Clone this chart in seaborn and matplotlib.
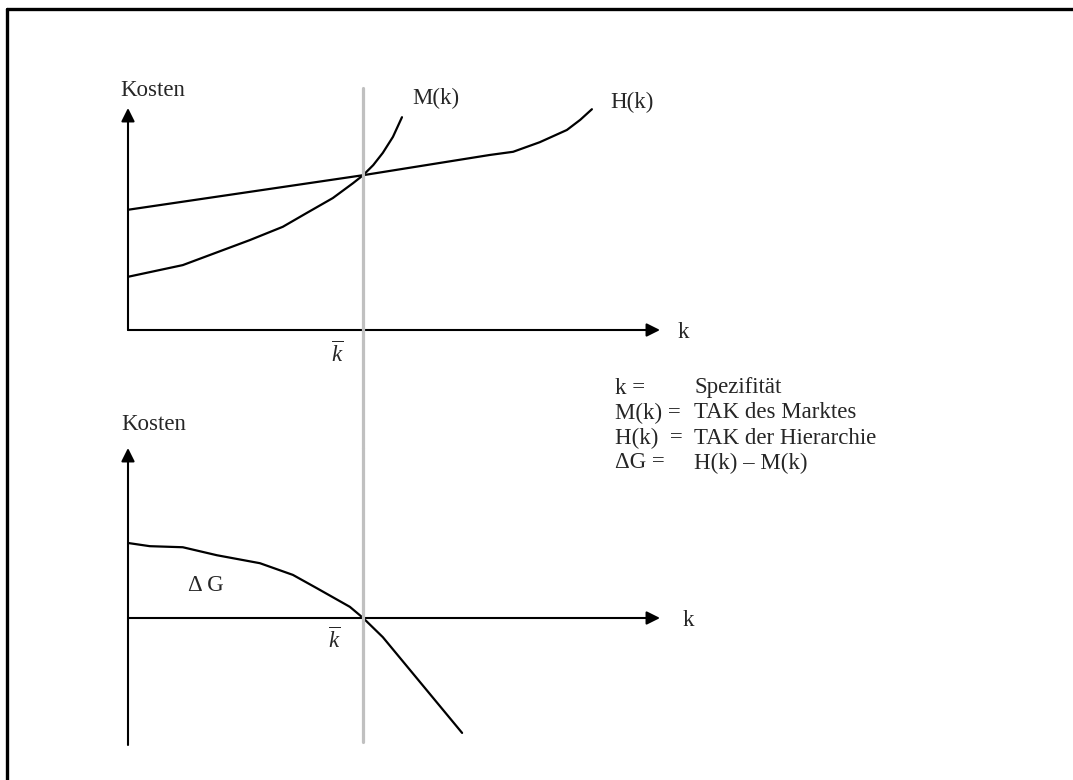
import matplotlib
matplotlib.use("Agg")
import matplotlib.pyplot as plt
import seaborn as sns

# curve points (k and cost in the same arbitrary units)
k_bar = 44.2

h_k = [0, 44.2, 58.6, 68.0, 72.4, 77.4, 82.5, 85.0, 87.2]
h_cost = [22.6, 29.1, 31.4, 32.9, 33.5, 35.3, 37.6, 39.5, 41.5]

m_k = [0, 10.3, 22.9, 29.1, 33.6, 38.5, 42.3, 44.2, 46.1, 47.9, 49.8, 51.5]
m_cost = [10.0, 12.2, 16.9, 19.4, 22.0, 24.8, 27.6, 29.1, 31.0, 33.3, 36.3, 40.0]

dg_k = [0, 4.1, 10.3, 16.7, 24.8, 31.0, 35.5, 41.7, 44.2, 47.9, 62.8]
dg_cost = [14.1, 13.5, 13.3, 11.8, 10.3, 8.1, 5.6, 2.1, 0, -3.6, -21.6]

legend_lhs = ["k =", "M(k) =", "H(k)  =", "\u0394G ="]
legend_rhs = ["Spezifit\u00e4t", "TAK des Marktes", "TAK der Hierarchie", "H(k) \u2013 M(k)"]

sns.set_theme(style="white")
plt.rcParams["font.family"] = ["Liberation Serif", "DejaVu Serif"]
plt.rcParams["mathtext.fontset"] = "custom"
plt.rcParams["mathtext.rm"] = "Liberation Serif"
plt.rcParams["mathtext.it"] = "Liberation Serif:italic"

W, H = 1073, 780
FS = 16.5
fig = plt.figure(figsize=(W / 100, H / 100), dpi=100)
fig.patch.set_facecolor("white")


def box(left, top, right, bottom):
    return [left / W, (H - bottom) / H, (right - left) / W, (bottom - top) / H]


def arrow(ax, start, end):
    ax.annotate("", xy=end, xytext=start,
                arrowprops=dict(arrowstyle="-|>", color="black", lw=1.5,
                                mutation_scale=20, shrinkA=0, shrinkB=0))


def clean(ax):
    ax.set_axis_off()
    ax.patch.set_alpha(0)


# top panel: transaction costs of market and hierarchy
ax1 = fig.add_axes(box(128, 108, 660, 330))
ax1.set_xlim(0, 100)
ax1.set_ylim(0, 222 / 5.32)
clean(ax1)
sns.lineplot(x=h_k, y=h_cost, sort=False, estimator=None, color="black", lw=1.6, ax=ax1)
sns.lineplot(x=m_k, y=m_cost, sort=False, estimator=None, color="black", lw=1.6, ax=ax1)
arrow(ax1, (0, 0), (0, 222 / 5.32))
arrow(ax1, (0, 0), (100, 0))
ax1.plot([k_bar, k_bar], [45.5, -22.2], color="#c0c0c0", lw=2.3, clip_on=False, zorder=5)
ax1.text(-1.5, 45.1, "Kosten", fontsize=FS, ha="left", va="center")
ax1.text(104.3, -0.5, "k", fontsize=FS, ha="center", va="center")
ax1.text(53.4, 43.6, "M(k)", fontsize=FS, ha="left", va="center")
ax1.text(90.6, 42.7, "H(k)", fontsize=FS, ha="left", va="center")
ax1.text(39.3, -4.6, r"$\overline{k}$", fontsize=FS, ha="center", va="center")

# bottom panel: difference H(k) - M(k)
ax2 = fig.add_axes(box(128, 448, 660, 745))
ax2.set_xlim(0, 100)
ax2.set_ylim(-127 / 5.32, 170 / 5.32)
clean(ax2)
sns.lineplot(x=dg_k, y=dg_cost, sort=False, estimator=None, color="black", lw=1.6, ax=ax2)
arrow(ax2, (0, -127 / 5.32), (0, 170 / 5.32))
arrow(ax2, (0, 0), (100, 0))
ax2.plot([k_bar, k_bar], [170 / 5.32, -23.3], color="#c0c0c0", lw=2.3, clip_on=False, zorder=5)
ax2.text(-1.3, 36.3, "Kosten", fontsize=FS, ha="left", va="center")
ax2.text(105.3, -0.5, "k", fontsize=FS, ha="center", va="center")
ax2.text(14.7, 6.2, "\u0394 G", fontsize=FS, ha="center", va="center")
ax2.text(38.7, -4.2, r"$\overline{k}$", fontsize=FS, ha="center", va="center")

# overlay for frame and legend text (pixel coordinates)
ov = fig.add_axes([0, 0, 1, 1])
ov.set_xlim(0, W)
ov.set_ylim(H, 0)
clean(ov)
ov.plot([7, W], [8.5, 8.5], color="black", lw=2.4)
ov.plot([7, 7], [8.5, H], color="black", lw=2.4)
for i, (lhs, rhs) in enumerate(zip(legend_lhs, legend_rhs)):
    y = 388 + i * 25
    ov.text(615, y, lhs, fontsize=FS, ha="left", va="center")
    ov.text(694, y, rhs, fontsize=FS, ha="left", va="center")

fig.savefig("out.png", dpi=100, facecolor="white")
